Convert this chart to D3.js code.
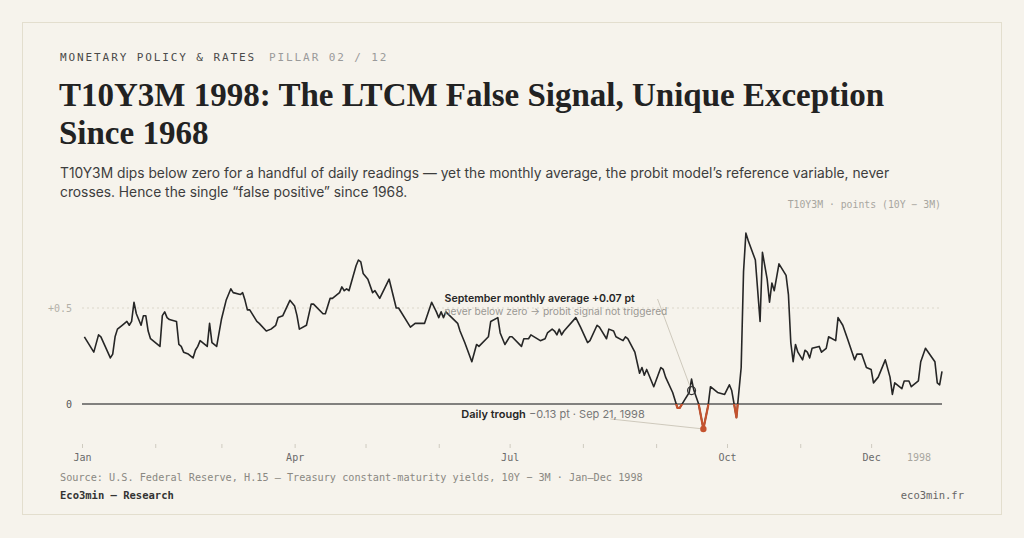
<!DOCTYPE html>
<html><head><meta charset="utf-8">
<script src="https://cdn.jsdelivr.net/npm/d3@7"></script>
<style>
html,body{margin:0;padding:0;background:#f6f3ec;}
svg{display:block;}
</style></head><body>
<svg id="c" width="1024" height="538"></svg>
<script>
// ---------- DATA ----------
const dates = [
"1998-01-02","1998-01-06","1998-01-08","1998-01-09","1998-01-13","1998-01-14","1998-01-15","1998-01-16","1998-01-18","1998-01-20",
"1998-01-21","1998-01-22","1998-01-23","1998-01-24","1998-01-26","1998-01-27","1998-01-28","1998-01-29","1998-01-30","1998-02-03",
"1998-02-04","1998-02-05","1998-02-06","1998-02-07","1998-02-10","1998-02-11","1998-02-12","1998-02-13","1998-02-15","1998-02-17",
"1998-02-18","1998-02-19","1998-02-20","1998-02-23","1998-02-24","1998-02-25","1998-02-27","1998-03-01","1998-03-03","1998-03-05",
"1998-03-06","1998-03-09","1998-03-10","1998-03-11","1998-03-12","1998-03-13","1998-03-16","1998-03-17","1998-03-20","1998-03-22",
"1998-03-24","1998-03-25","1998-03-27","1998-03-30","1998-04-01","1998-04-02","1998-04-03","1998-04-06","1998-04-08","1998-04-09",
"1998-04-13","1998-04-14","1998-04-16","1998-04-17","1998-04-20","1998-04-21","1998-04-22","1998-04-23","1998-04-24","1998-04-27",
"1998-04-28","1998-04-29","1998-04-30","1998-05-02","1998-05-04","1998-05-05","1998-05-07","1998-05-11","1998-05-14","1998-05-15",
"1998-05-20","1998-05-22","1998-05-26","1998-05-29","1998-05-31","1998-06-01","1998-06-02","1998-06-03","1998-06-04","1998-06-09",
"1998-06-10","1998-06-12","1998-06-15","1998-06-17","1998-06-18","1998-06-22","1998-06-23","1998-06-26","1998-06-27","1998-06-29",
"1998-07-01","1998-07-02","1998-07-06","1998-07-07","1998-07-09","1998-07-10","1998-07-14","1998-07-16","1998-07-17","1998-07-19",
"1998-07-20","1998-07-21","1998-07-22","1998-07-23","1998-07-24","1998-07-29","1998-07-31","1998-08-03","1998-08-04","1998-08-07",
"1998-08-08","1998-08-11","1998-08-12","1998-08-14","1998-08-15","1998-08-18","1998-08-19","1998-08-20","1998-08-23","1998-08-25",
"1998-08-26","1998-08-27","1998-08-28","1998-08-31","1998-09-03","1998-09-04","1998-09-05","1998-09-08","1998-09-10","1998-09-11",
"1998-09-13","1998-09-15","1998-09-16","1998-09-17","1998-09-19","1998-09-21","1998-09-23","1998-09-24","1998-09-27","1998-09-30",
"1998-10-02","1998-10-03","1998-10-05","1998-10-07","1998-10-08","1998-10-09","1998-10-10","1998-10-13","1998-10-15","1998-10-16",
"1998-10-18","1998-10-19","1998-10-20","1998-10-21","1998-10-23","1998-10-26","1998-10-27","1998-10-28","1998-10-29","1998-10-30",
"1998-10-31","1998-11-02","1998-11-03","1998-11-04","1998-11-05","1998-11-06","1998-11-09","1998-11-10","1998-11-12","1998-11-13",
"1998-11-16","1998-11-17","1998-11-19","1998-11-21","1998-11-24","1998-11-25","1998-11-27","1998-11-29","1998-12-01","1998-12-02",
"1998-12-04","1998-12-07","1998-12-09","1998-12-10","1998-12-11","1998-12-14","1998-12-15","1998-12-17","1998-12-18","1998-12-21",
"1998-12-22","1998-12-24","1998-12-28","1998-12-29","1998-12-30","1998-12-31"
];
const values = [
0.35,0.27,0.36,0.35,0.24,0.26,0.35,0.39,0.41,0.43,
0.41,0.43,0.53,0.47,0.41,0.46,0.46,0.38,0.34,0.30,
0.46,0.48,0.45,0.44,0.43,0.31,0.30,0.27,0.26,0.24,
0.28,0.30,0.33,0.30,0.42,0.32,0.30,0.44,0.54,0.60,
0.58,0.57,0.58,0.54,0.49,0.49,0.43,0.42,0.38,0.39,
0.41,0.45,0.46,0.54,0.51,0.46,0.39,0.41,0.52,0.52,
0.47,0.47,0.55,0.55,0.58,0.61,0.59,0.60,0.59,0.72,
0.75,0.74,0.68,0.65,0.58,0.59,0.55,0.65,0.50,0.50,
0.40,0.42,0.42,0.53,0.48,0.45,0.48,0.45,0.48,0.42,
0.38,0.32,0.22,0.31,0.30,0.35,0.43,0.45,0.37,0.31,
0.35,0.35,0.30,0.34,0.34,0.36,0.33,0.34,0.37,0.39,
0.38,0.36,0.39,0.36,0.38,0.45,0.40,0.32,0.33,0.41,
0.40,0.34,0.39,0.38,0.35,0.33,0.35,0.34,0.27,0.16,
0.19,0.15,0.18,0.09,0.19,0.18,0.14,0.06,-0.02,-0.02,
0.02,0.06,0.13,0.07,0.00,-0.13,-0.01,0.09,0.06,0.05,
0.10,0.07,-0.07,0.19,0.69,0.89,0.85,0.75,0.43,0.79,
0.65,0.53,0.63,0.59,0.73,0.67,0.57,0.32,0.22,0.31,
0.27,0.23,0.28,0.27,0.24,0.29,0.30,0.27,0.29,0.35,
0.33,0.45,0.41,0.34,0.23,0.26,0.26,0.19,0.18,0.11,
0.14,0.23,0.14,0.05,0.11,0.08,0.12,0.12,0.09,0.12,
0.22,0.29,0.22,0.11,0.10,0.17
];
const monthTicks = ["1998-01-01","1998-02-01","1998-03-01","1998-04-01","1998-05-01","1998-06-01","1998-07-01","1998-08-01","1998-09-01","1998-10-01","1998-11-01","1998-12-01"];
const monthLabels = ["Jan","","","Apr","","","Jul","","","Oct","","Dec"];
const yTicks = [0, 0.5];
const yTickLabels = ["0", "+0.5"];
const septAverage = {date: "1998-09-16", value: 0.07};
const trough = {date: "1998-09-21", value: -0.13};

// ---------- SETUP ----------
const parse = d3.timeParse("%Y-%m-%d");
const data = dates.map((d, i) => ({date: parse(d), value: values[i]}));
const svg = d3.select("#c");
const W = 1024, H = 538;
const mono = "'DejaVu Sans Mono', monospace";
const sans = "Inter, 'Noto Sans', sans-serif";
const serif = "'Liberation Serif', 'DejaVu Serif', serif";

svg.append("rect").attr("width", W).attr("height", H).attr("fill", "#f6f3ec");
svg.append("rect").attr("x", 22.5).attr("y", 22.5).attr("width", 979).attr("height", 492)
  .attr("fill", "#f6f3ec").attr("stroke", "#e3dece").attr("stroke-width", 1);

// header
const hdr = svg.append("text").attr("x", 60).attr("y", 61)
  .attr("font-family", mono).attr("font-size", 11).attr("letter-spacing", 1.9);
hdr.append("tspan").attr("fill", "#4a4a4a").text("MONETARY POLICY & RATES");
hdr.append("tspan").attr("fill", "#9a9a9a").attr("dx", 13).text("PILLAR 02 / 12");

// title
const titleLines = ["T10Y3M 1998: The LTCM False Signal, Unique Exception", "Since 1968"];
svg.append("g").selectAll("text").data(titleLines).join("text")
  .attr("x", 59).attr("y", (d, i) => 106 + i * 38)
  .attr("font-family", serif).attr("font-weight", 700).attr("font-size", 33)
  .attr("fill", "#222").text(d => d);

// subtitle
const subLines = ["T10Y3M dips below zero for a handful of daily readings \u2014 yet the monthly average, the probit model\u2019s reference variable, never",
                  "crosses. Hence the single \u201Cfalse positive\u201D since 1968."];
svg.append("g").selectAll("text").data(subLines).join("text")
  .attr("x", 60).attr("y", (d, i) => 178 + i * 19)
  .attr("font-family", sans).attr("font-size", 13.8)
  .attr("fill", "#3d3d3d").text(d => d);

// unit label
svg.append("text").attr("x", 941).attr("y", 208).attr("text-anchor", "end")
  .attr("font-family", mono).attr("font-size", 9.8).attr("fill", "#a8a6a0")
  .text("T10Y3M \u00B7 points (10Y \u2212 3M)");

// ---------- SCALES ----------
const x = d3.scaleTime().domain([parse("1998-01-01"), parse("1998-12-31")]).range([82, 942]);
const y = d3.scaleLinear().domain([-0.2, 0.95]).range([442.4, 221.6]);

// gridline at +0.5
svg.append("g").selectAll("line").data(yTicks.filter(v => v !== 0)).join("line")
  .attr("x1", 82).attr("x2", 942).attr("y1", d => y(d)).attr("y2", d => y(d))
  .attr("stroke", "#dcd7ca").attr("stroke-width", 1).attr("stroke-dasharray", "2,3");

// y labels
svg.append("g").selectAll("text").data(yTicks).join("text")
  .attr("x", 72).attr("y", d => y(d) + 3.5).attr("text-anchor", "end")
  .attr("font-family", mono).attr("font-size", 10)
  .attr("fill", d => d === 0 ? "#555" : "#b3b0a8")
  .text((d, i) => yTickLabels[i]);

// zero line
svg.append("line").attr("x1", 82).attr("x2", 942).attr("y1", y(0)).attr("y2", y(0))
  .attr("stroke", "#5a5a5a").attr("stroke-width", 1.5);

// x axis
const xAxis = d3.axisBottom(x)
  .tickValues(monthTicks.map(parse))
  .tickSize(4).tickPadding(6)
  .tickFormat((d, i) => monthLabels[i]);
const gx = svg.append("g").attr("transform", "translate(0,444)").call(xAxis);
gx.select(".domain").remove();
gx.selectAll(".tick line").attr("stroke", "#cfcbc0");
gx.selectAll(".tick text").attr("font-family", mono).attr("font-size", 10).attr("fill", "#6a6a6a");
svg.append("text").attr("x", 919).attr("y", 461).attr("text-anchor", "middle")
  .attr("font-family", mono).attr("font-size", 10).attr("fill", "#a8a6a0").text("1998");

// ---------- LINE ----------
const line = d3.line().x(d => x(d.date)).y(d => y(d.value));
svg.append("defs").append("clipPath").attr("id", "below")
  .append("rect").attr("x", 0).attr("y", y(0)).attr("width", W).attr("height", H - y(0));

svg.append("path").datum(data).attr("d", line)
  .attr("fill", "none").attr("stroke", "#262626").attr("stroke-width", 1.6)
  .attr("stroke-linejoin", "round");
svg.append("path").datum(data).attr("d", line).attr("clip-path", "url(#below)")
  .attr("fill", "none").attr("stroke", "#c4522e").attr("stroke-width", 2.2)
  .attr("stroke-linejoin", "round");

// ---------- ANNOTATIONS ----------
const sx = x(parse(septAverage.date)), sy = y(septAverage.value);
const tx = x(parse(trough.date)), ty = y(trough.value);

// september average
svg.append("line").attr("x1", sx - 34).attr("y1", y(0.5) - 9).attr("x2", sx - 1.5).attr("y2", sy - 4)
  .attr("stroke", "#c9c4b7").attr("stroke-width", 0.9);
svg.append("circle").attr("cx", sx).attr("cy", sy).attr("r", 4)
  .attr("fill", "none").attr("stroke", "#333").attr("stroke-width", 1.2);
svg.append("text").attr("x", sx - 247).attr("y", y(0.5) - 6)
  .attr("font-family", sans).attr("font-size", 10.6).attr("font-weight", 600).attr("fill", "#262626")
  .text("September monthly average +0.07 pt");
svg.append("text").attr("x", sx - 247).attr("y", y(0.5) + 7)
  .attr("font-family", sans).attr("font-size", 10.2).attr("fill", "#9a9893")
  .text("never below zero \u2192 probit signal not triggered");

// trough
svg.append("line").attr("x1", tx - 93).attr("y1", ty - 10).attr("x2", tx).attr("y2", ty)
  .attr("stroke", "#c9c4b7").attr("stroke-width", 0.9);
svg.append("circle").attr("cx", tx).attr("cy", ty).attr("r", 3.2).attr("fill", "#c4522e");
const tt = svg.append("text").attr("x", tx - 242).attr("y", ty - 11)
  .attr("font-family", sans).attr("font-size", 11);
tt.append("tspan").attr("font-weight", 600).attr("fill", "#262626").text("Daily trough");
tt.append("tspan").attr("fill", "#777").text(" \u22120.13 pt \u00B7 Sep 21, 1998");

// ---------- FOOTER ----------
svg.append("text").attr("x", 60).attr("y", 481)
  .attr("font-family", mono).attr("font-size", 10.2).attr("fill", "#8a8882")
  .text("Source: U.S. Federal Reserve, H.15 \u2014 Treasury constant-maturity yields, 10Y \u2212 3M \u00B7 Jan\u2013Dec 1998");
svg.append("text").attr("x", 60).attr("y", 499)
  .attr("font-family", mono).attr("font-size", 10.5).attr("font-weight", 700).attr("fill", "#333")
  .text("Eco3min \u2014 Research");
svg.append("text").attr("x", 964).attr("y", 499).attr("text-anchor", "end")
  .attr("font-family", mono).attr("font-size", 10.5).attr("fill", "#666")
  .text("eco3min.fr");
</script>
</body></html>
